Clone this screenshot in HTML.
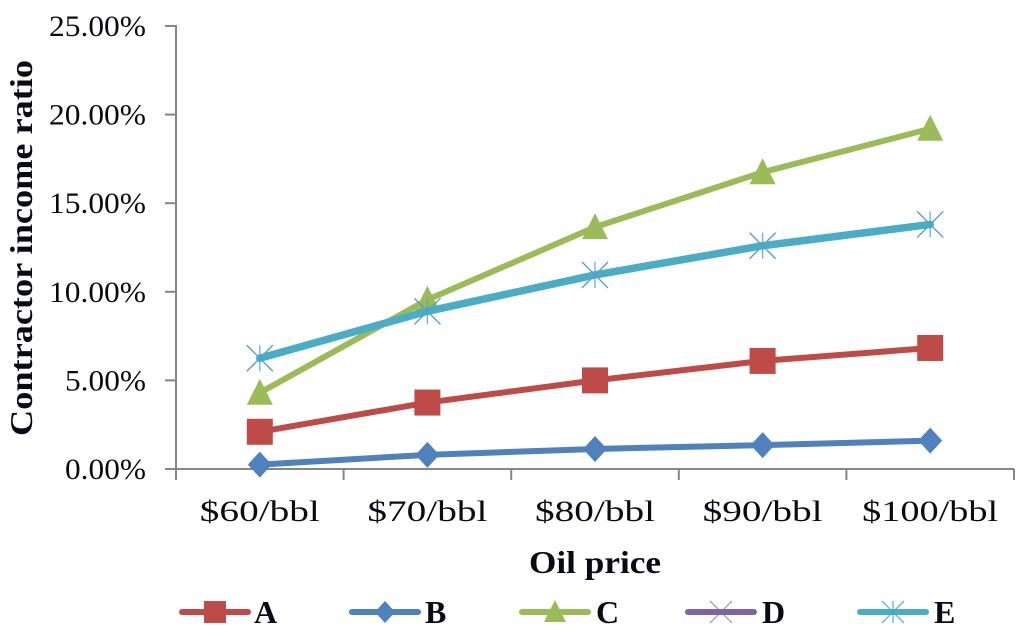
<!DOCTYPE html>
<html>
<head>
<meta charset="utf-8">
<style>
html,body{margin:0;padding:0;background:#fff;width:1024px;height:639px;overflow:hidden}
svg{display:block}
text{font-family:"Liberation Serif","DejaVu Serif",serif;fill:#0a0a14}
</style>
</head>
<body>
<svg id="chart" width="1024" height="639" viewBox="0 0 1024 639" xmlns="http://www.w3.org/2000/svg"></svg>
<script>
const categories = ['$60/bbl', '$70/bbl', '$80/bbl', '$90/bbl', '$100/bbl'];
const yTicks = [0, 5, 10, 15, 20, 25];
const seriesA = [2.1, 3.75, 5.0, 6.1, 6.83];
const seriesB = [0.25, 0.8, 1.13, 1.35, 1.6];
const seriesC = [4.3, 9.55, 13.65, 16.75, 19.2];
const seriesD = [6.25, 8.9, 10.95, 12.6, 13.8];
const seriesE = [6.25, 8.9, 10.95, 12.6, 13.8];
const legendLabels = ['A', 'B', 'C', 'D', 'E'];

const NS = 'http://www.w3.org/2000/svg';
const svg = document.getElementById('chart');
const plotLeft = 176, plotRight = 1014, plotTop = 26, plotBottom = 469, yMax = 25;
const bandWidth = (plotRight - plotLeft) / categories.length;
function xScale(i) { return plotLeft + bandWidth * (i + 0.5); }
function yScale(v) { return plotBottom - (v / yMax) * (plotBottom - plotTop); }

function make(tag, attrs, parent) {
  const el = document.createElementNS(NS, tag);
  for (const k in attrs) el.setAttribute(k, attrs[k]);
  (parent || svg).appendChild(el);
  return el;
}

function drawMarker(g, kind, x, y, color, size) {
  const r = size / 2;
  if (kind === 'square') {
    make('rect', { x: x - r, y: y - r, width: size, height: size, fill: color }, g);
  } else if (kind === 'diamond') {
    make('polygon', { points: [x, y - r, x + r * 0.92, y, x, y + r, x - r * 0.92, y].join(' '), fill: color }, g);
  } else if (kind === 'triangle') {
    make('polygon', { points: [x, y - r - 1, x + r, y + r - 1, x - r, y + r - 1].join(' '), fill: color }, g);
  } else if (kind === 'x') {
    make('path', { d: `M${x - r} ${y - r}L${x + r} ${y + r}M${x + r} ${y - r}L${x - r} ${y + r}`, stroke: color, 'stroke-width': 1.2, 'stroke-opacity': 0.75, fill: 'none' }, g);
  } else if (kind === 'star') {
    make('path', { d: `M${x - r} ${y - r}L${x + r} ${y + r}M${x + r} ${y - r}L${x - r} ${y + r}M${x} ${y - r}L${x} ${y + r}`, stroke: color, 'stroke-width': 1.3, 'stroke-opacity': 0.85, fill: 'none' }, g);
  }
}

// Axes
const axes = make('g', {});


const axisStyle = { stroke: '#868686', 'stroke-width': 2, fill: 'none' };
const yAxisLine = make('line', Object.assign({ x1: plotLeft, x2: plotLeft, y1: plotTop - 1, y2: plotBottom + 10 }, axisStyle), axes);


const xAxisLine = make('line', Object.assign({ x1: plotLeft - 11, x2: plotRight, y1: plotBottom, y2: plotBottom }, axisStyle), axes);



yTicks.forEach(function (t) {
  const y = yScale(t);
  const tick = make('line', Object.assign({ x1: plotLeft - 11, x2: plotLeft, y1: y, y2: y }, axisStyle), axes);
  
  
  const str = t.toFixed(2) + '%';
  const label = make('text', { x: 146, y: y + 10, 'text-anchor': 'end', 'font-size': 30, textLength: t >= 10 ? 97 : 81, lengthAdjust: 'spacingAndGlyphs' });
  label.textContent = str;
  
  
});

for (let i = 0; i <= categories.length; i++) {
  const x = plotLeft + bandWidth * i;
  const tick = make('line', Object.assign({ x1: x, x2: x, y1: plotBottom, y2: plotBottom + 11 }, axisStyle), axes);
  
  
}

categories.forEach(function (c, i) {
  const label = make('text', { x: xScale(i), y: 521, 'text-anchor': 'middle', 'font-size': 30, textLength: c.length > 7 ? 136 : 120, lengthAdjust: 'spacingAndGlyphs' });
  label.textContent = c;
  
  
});

// Titles
const xTitle = make('text', { x: 595, y: 573, 'text-anchor': 'middle', 'font-size': 32, 'font-weight': 'bold', textLength: 132, lengthAdjust: 'spacingAndGlyphs' });
xTitle.textContent = 'Oil price';



const yTitle = make('text', { x: 0, y: 0, transform: 'translate(32 248) rotate(-90)', 'text-anchor': 'middle', 'font-size': 32, 'font-weight': 'bold', textLength: 376, lengthAdjust: 'spacingAndGlyphs' });
yTitle.textContent = 'Contractor income ratio';



// Series
const colors = ['#be4b48', '#4f81bd', '#9bbb59', '#8064a2', '#4bacc6'];
const markerKinds = ['square', 'diamond', 'triangle', 'x', 'star'];
const allSeries = [seriesA, seriesB, seriesC, seriesD, seriesE];
const markerColors = ['#be4b48', '#4f81bd', '#9bbb59', '#8064a2', '#46a5c8'];

allSeries.forEach(function (vals, s) {
  const g = make('g', {});
  
  
  const pts = vals.map(function (v, i) { return xScale(i) + ',' + yScale(v); }).join(' ');
  const line = make('polyline', { points: pts, fill: 'none', stroke: colors[s], 'stroke-width': s === 4 ? 7.5 : 6, 'stroke-linejoin': 'round', 'stroke-linecap': 'round' }, g);
  
  
  vals.forEach(function (v, i) {
    drawMarker(g, markerKinds[s], xScale(i), yScale(v), markerColors[s], 26);
  });
});

// Legend
const legendLineStart = [180, 350, 520, 686, 858];
const legendTextStart = [254, 425, 596, 762, 934];
legendLabels.forEach(function (name, s) {
  const g = make('g', {});
  
  
  const x0 = legendLineStart[s];
  const y0 = 612;
  make('line', { x1: x0 + 2, x2: x0 + 68, y1: y0, y2: y0, stroke: colors[s], 'stroke-width': 6, 'stroke-linecap': 'round' }, g);
  drawMarker(g, markerKinds[s], x0 + 35, y0, markerColors[s], 22);
  const label = make('text', { x: legendTextStart[s], y: 623, 'font-size': 32, 'font-weight': 'bold' }, g);
  label.textContent = name;
});
</script>
</body>
</html>
